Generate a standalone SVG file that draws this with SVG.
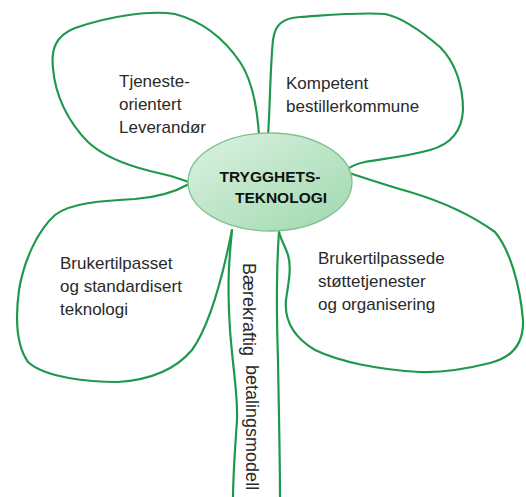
<svg xmlns="http://www.w3.org/2000/svg" width="526" height="497" viewBox="0 0 526 497">
  <style>
    .petal { fill: none; stroke: #1f984d; stroke-width: 2.2; stroke-linecap: round; stroke-linejoin: round; }
    .lbl { font-family: "Liberation Sans", Arial, sans-serif; font-size: 17px; fill: #2a2a2a; }
    .ctr { font-family: "Liberation Sans", Arial, sans-serif; font-size: 15.5px; font-weight: bold; fill: #111; text-anchor: middle; }
  </style>
  <defs>
    <linearGradient id="g1" x1="0" y1="0" x2="1" y2="1">
      <stop offset="0" stop-color="#dcf2e1"/>
      <stop offset="1" stop-color="#9fd8ae"/>
    </linearGradient>
  </defs>
  <rect width="526" height="497" fill="#ffffff"/>
  <g id="connectors">
    <path id="petal-top-left" class="petal" d="M259,135 C257,105 252,80 240,62 C225,40 205,22 175,14 C150,10 110,16 75,28 C55,36 51,50 53,68 C55,95 68,122 88,142 C105,158 130,166 150,171 C165,174 178,178 189,182"/>
    <path id="petal-top-right" class="petal" d="M268,135 C270,110 270,70 273,40 C275,25 282,18 300,17 C330,15 360,12 385,14 C400,17 420,30 440,47 C455,62 463,85 463,110 C462,130 452,144 430,150 C405,157 380,159 365,162 C355,164 350,167 346,170"/>
    <path id="petal-bottom-left" class="petal" d="M189,184 C175,192 160,197 135,199 C100,201 70,203 55,215 C38,230 24,260 19,290 C15,320 16,345 28,362 C45,378 90,382 118,382 C150,380 175,370 192,350 C210,325 222,280 232,230"/>
    <path id="petal-bottom-right" class="petal" d="M346,172 C365,178 385,185 410,192 C440,201 470,214 495,232 C510,250 520,285 523,320 C524,345 510,358 490,363 C470,368 445,373 420,372 C380,370 340,362 315,350 C295,338 284,322 286,300 C288,285 292,268 288,255 C285,246 281,240 279,232"/>
    <path id="stem-left" class="petal" d="M232,230 C229,260 227,285 230,330 C233,370 238,395 237,420 C235,450 233,475 233,499"/>
    <path id="stem-right" class="petal" d="M279,232 C277,260 276,300 278,360 C279,420 280,460 280,499"/>
  </g>
  <g id="center">
    <ellipse cx="270" cy="182" rx="82" ry="49" fill="url(#g1)" stroke="#7fc290" stroke-width="1.3"/>
    <text class="ctr" x="270" y="182">TRYGGHETS-</text>
    <text class="ctr" x="281" y="203">TEKNOLOGI</text>
  </g>
  <g id="node-tjeneste">
    <text class="lbl" x="119" y="87">Tjeneste-</text>
    <text class="lbl" x="119" y="110">orientert</text>
    <text class="lbl" x="119" y="133">Leverandør</text>
  </g>
  <g id="node-kompetent">
    <text class="lbl" x="286" y="89">Kompetent</text>
    <text class="lbl" x="286" y="112">bestillerkommune</text>
  </g>
  <g id="node-teknologi">
    <text class="lbl" x="60" y="269">Brukertilpasset</text>
    <text class="lbl" x="60" y="292">og standardisert</text>
    <text class="lbl" x="60" y="315">teknologi</text>
  </g>
  <g id="node-stotte">
    <text class="lbl" x="318" y="264">Brukertilpassede</text>
    <text class="lbl" x="318" y="287">støttetjenester</text>
    <text class="lbl" x="318" y="310">og organisering</text>
  </g>
  <g id="node-betaling">
    <text class="lbl" style="font-size:18px" transform="translate(243,263) rotate(90)">Bærekraftig  <tspan dx="4" dy="-3">betalingsmodell</tspan></text>
  </g>
</svg>
